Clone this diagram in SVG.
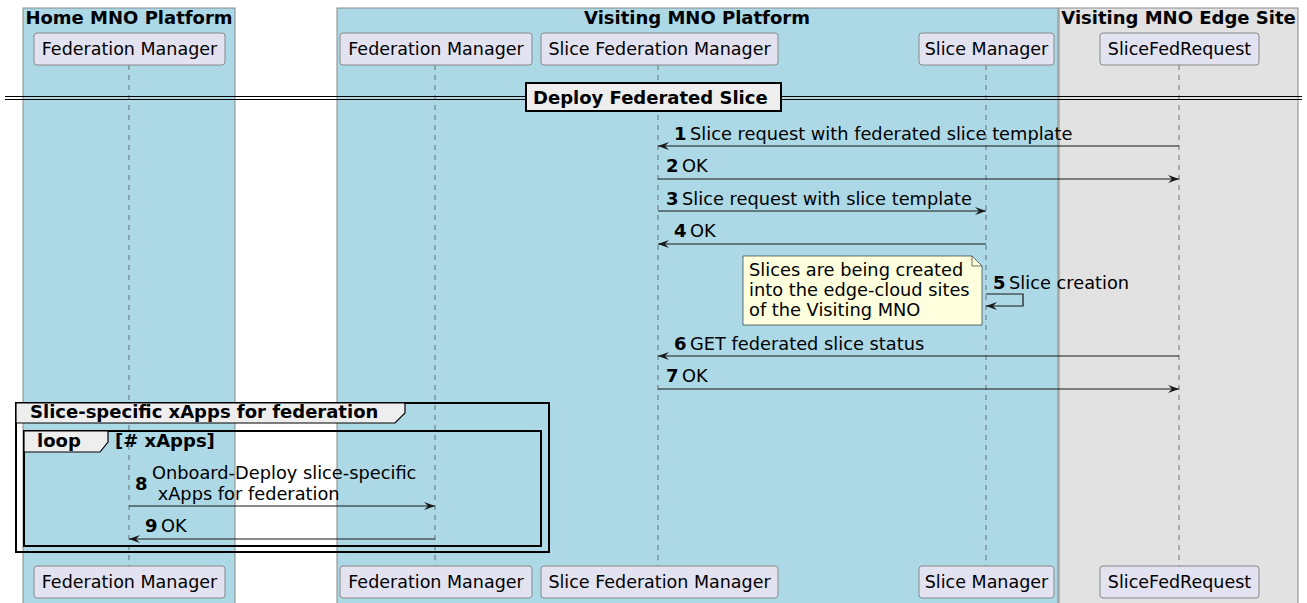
<svg xmlns="http://www.w3.org/2000/svg" width="1307" height="603" viewBox="0 0 1307 603">
  <style>
    text { font-family: "DejaVu Sans", "Liberation Sans", sans-serif; fill: #000; }
    .boxtitle { font-size: 18px; font-weight: bold; text-anchor: middle; }
    .part rect { fill: #E2E2F0; stroke: #888; stroke-width: 1; }
    .part text { font-size: 17.5px; text-anchor: middle; }
    .life { stroke: #555; stroke-width: 0.8; stroke-dasharray: 5 5; fill: none; }
    .msg { stroke: #181818; stroke-width: 1.2; fill: none; }
    .lbl { font-size: 17.8px; }
    .num { font-size: 18px; font-weight: bold; }
    .frame { fill: none; stroke: #000; stroke-width: 2; }
    .tab { fill: #EEEEEE; stroke: #000; stroke-width: 1.2; }
    .bold { font-size: 18px; font-weight: bold; }
  </style>
  <defs>
    <marker id="arrow" viewBox="0 0 12 10" refX="11" refY="5" markerWidth="12" markerHeight="10" markerUnits="userSpaceOnUse" orient="auto">
      <path d="M0,1 L11,5 L0,9 L4,5 Z" fill="#181818"/>
    </marker>
  </defs>

  <!-- platform boxes -->
  <g id="box-home">
    <rect x="23" y="8" width="212" height="600" fill="#ADD8E6" stroke="#8a8a8a" stroke-width="1"/>
    <text class="boxtitle" x="129" y="24">Home MNO Platform</text>
  </g>
  <g id="box-visiting">
    <rect x="337" y="8" width="721" height="600" fill="#ADD8E6" stroke="#8a8a8a" stroke-width="1"/>
    <text class="boxtitle" x="697" y="24">Visiting MNO Platform</text>
  </g>
  <g id="box-edge">
    <rect x="1059" y="8" width="239" height="600" fill="#E2E2E2" stroke="#8a8a8a" stroke-width="1"/>
    <text class="boxtitle" x="1178.5" y="24">Visiting MNO Edge Site</text>
  </g>

  <!-- lifelines -->
  <g id="lifelines">
    <line class="life" x1="129" y1="65" x2="129" y2="566"/>
    <line class="life" x1="435" y1="65" x2="435" y2="566"/>
    <line class="life" x1="658" y1="65" x2="658" y2="566"/>
    <line class="life" x1="986" y1="65" x2="986" y2="566"/>
    <line class="life" x1="1179" y1="65" x2="1179" y2="566"/>
  </g>

  <!-- participants -->
  <g id="home-fm" class="part">
    <rect x="34" y="33" width="191" height="32" rx="3"/>
    <text x="129.5" y="55">Federation Manager</text>
    <rect x="34" y="566" width="191" height="32" rx="3"/>
    <text x="129.5" y="588">Federation Manager</text>
  </g>
  <g id="visiting-fm" class="part">
    <rect x="340" y="33" width="192" height="32" rx="3"/>
    <text x="436" y="55">Federation Manager</text>
    <rect x="340" y="566" width="192" height="32" rx="3"/>
    <text x="436" y="588">Federation Manager</text>
  </g>
  <g id="slice-fed-manager" class="part">
    <rect x="541" y="33" width="237" height="32" rx="3"/>
    <text x="659.5" y="55">Slice Federation Manager</text>
    <rect x="541" y="566" width="237" height="32" rx="3"/>
    <text x="659.5" y="588">Slice Federation Manager</text>
  </g>
  <g id="slice-manager" class="part">
    <rect x="919" y="33" width="135" height="32" rx="3"/>
    <text x="986.5" y="55">Slice Manager</text>
    <rect x="919" y="566" width="135" height="32" rx="3"/>
    <text x="986.5" y="588">Slice Manager</text>
  </g>
  <g id="slice-fed-request" class="part">
    <rect x="1100" y="33" width="159" height="32" rx="3"/>
    <text x="1179.5" y="55">SliceFedRequest</text>
    <rect x="1100" y="566" width="159" height="32" rx="3"/>
    <text x="1179.5" y="588">SliceFedRequest</text>
  </g>

  <!-- section divider -->
  <g id="divider">
    <line x1="5" y1="96.5" x2="1302" y2="96.5" stroke="#000" stroke-width="1.2"/>
    <line x1="5" y1="99.5" x2="1302" y2="99.5" stroke="#000" stroke-width="1.2"/>
    <rect x="526" y="83" width="255" height="28" fill="#EEEEEE" stroke="#000" stroke-width="2"/>
    <text class="bold" x="533" y="104">Deploy Federated Slice</text>
  </g>

  <!-- note on slice creation -->
  <g id="note">
    <path d="M743,256 H972 L982,266 V325 H743 Z" fill="#FEFFDD" stroke="#181818" stroke-width="0.6"/>
    <path d="M972,256 V266 H982" fill="none" stroke="#181818" stroke-width="0.6"/>
    <text class="lbl" x="749" y="276">Slices are being created</text>
    <text class="lbl" x="749" y="296">into the edge-cloud sites</text>
    <text class="lbl" x="749" y="316">of the Visiting MNO</text>
  </g>

  <!-- group and loop frames -->
  <g id="group-xapps">
    <rect class="frame" x="16" y="403" width="533" height="149"/>
    <path class="tab" d="M16,403 H405 V413 L395,423 H16 Z"/>
    <text class="bold" x="30" y="418">Slice-specific xApps for federation</text>
  </g>
  <g id="loop-xapps">
    <rect class="frame" x="24" y="431" width="517" height="115"/>
    <path class="tab" d="M24,431 H108 V442 L100,452 H24 Z"/>
    <text class="bold" x="37" y="447">loop</text>
    <text class="bold" x="115" y="447">[# xApps]</text>
  </g>

  <!-- messages -->
  <g id="connectors">
    <line class="msg" x1="1179" y1="146" x2="658" y2="146" marker-end="url(#arrow)"/>
    <text class="num" x="674" y="140">1</text>
    <text class="lbl" x="690" y="140">Slice request with federated slice template</text>

    <line class="msg" x1="658" y1="179" x2="1179" y2="179" marker-end="url(#arrow)"/>
    <text class="num" x="666" y="172">2</text>
    <text class="lbl" x="682" y="172">OK</text>

    <line class="msg" x1="658" y1="211" x2="986" y2="211" marker-end="url(#arrow)"/>
    <text class="num" x="666" y="205">3</text>
    <text class="lbl" x="682" y="205">Slice request with slice template</text>

    <line class="msg" x1="986" y1="244" x2="658" y2="244" marker-end="url(#arrow)"/>
    <text class="num" x="674" y="237">4</text>
    <text class="lbl" x="690" y="237">OK</text>

    <path class="msg" d="M986,294 H1023 V306 H986" marker-end="url(#arrow)"/>
    <text class="num" x="993" y="289">5</text>
    <text class="lbl" x="1009" y="289">Slice creation</text>

    <line class="msg" x1="1179" y1="356" x2="658" y2="356" marker-end="url(#arrow)"/>
    <text class="num" x="674" y="350">6</text>
    <text class="lbl" x="690" y="350">GET federated slice status</text>

    <line class="msg" x1="658" y1="389" x2="1179" y2="389" marker-end="url(#arrow)"/>
    <text class="num" x="666" y="382">7</text>
    <text class="lbl" x="682" y="382">OK</text>

    <line class="msg" x1="129" y1="506" x2="435" y2="506" marker-end="url(#arrow)"/>
    <text class="num" x="135" y="490">8</text>
    <text class="lbl" x="152" y="479">Onboard-Deploy slice-specific</text>
    <text class="lbl" x="152" y="500" xml:space="preserve"> xApps for federation</text>

    <line class="msg" x1="435" y1="539" x2="129" y2="539" marker-end="url(#arrow)"/>
    <text class="num" x="145" y="532">9</text>
    <text class="lbl" x="161" y="532">OK</text>
  </g>
</svg>
